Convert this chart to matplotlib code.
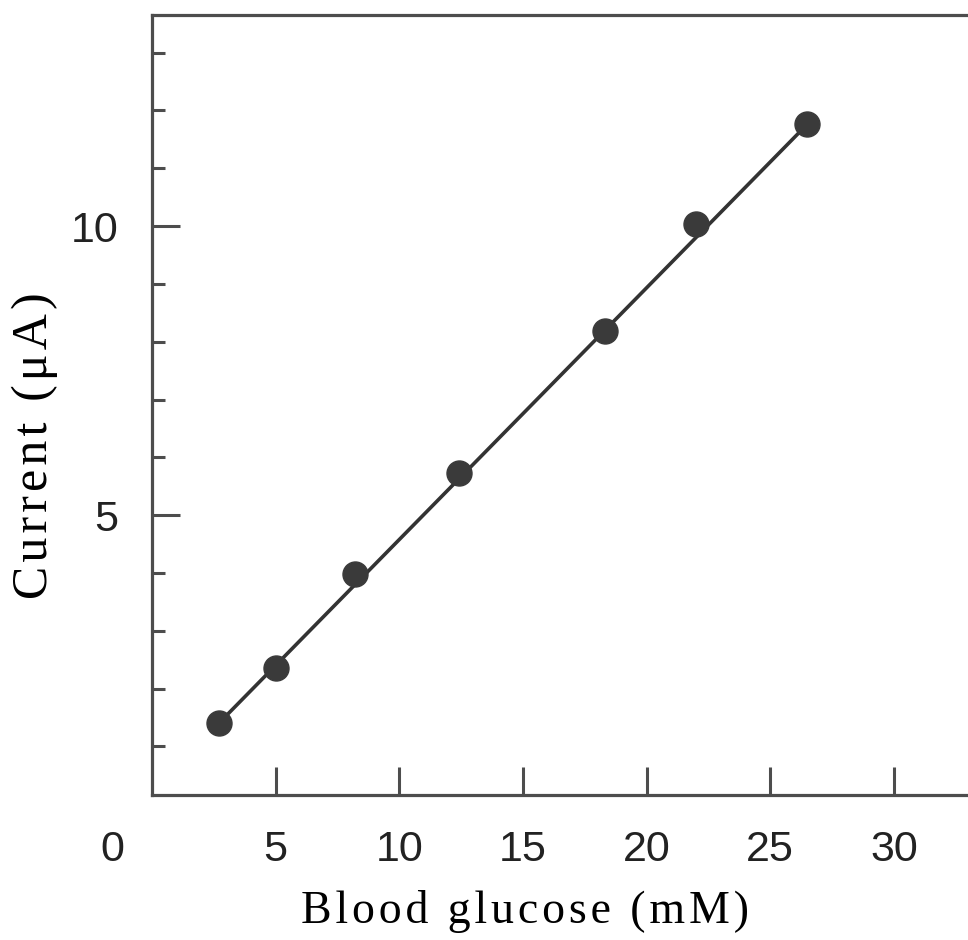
import matplotlib
matplotlib.use('Agg')
import matplotlib.pyplot as plt
from matplotlib.transforms import ScaledTranslation

# measured points (blood glucose mM, current uA)
glucose = [2.7, 5.0, 8.2, 12.4, 18.3, 22.0, 26.5]
current = [1.40, 2.35, 3.99, 5.73, 8.18, 10.03, 11.76]

# drawn calibration line end points
fit_x = [2.7, 26.5]
fit_y = [1.40, 11.76]

x_ticks = [0, 5, 10, 15, 20, 25, 30]
y_major = [5, 10]
y_minor = [1, 2, 3, 4, 6, 7, 8, 9, 11, 12, 13]

axis_col = '#4d4d4d'
dot_col = '#3a3a3a'


def spaced(s, sp='\u200a'):
    # fake letter spacing with hair spaces
    return sp.join(s)


fig = plt.figure(figsize=(9.68, 9.4), dpi=100)
ax = fig.add_axes([152 / 968, 145 / 940, 1 - 152 / 968, (795 - 15) / 940])

ax.plot(fit_x, fit_y, color='#333333', lw=2.6, zorder=2)
ax.plot(glucose, current, 'o', ms=18, color=dot_col, mec=dot_col, zorder=3)

ax.set_xlim(0, 33.0)
ax.set_ylim(0.16, 13.65)

for side in ['left', 'bottom', 'top']:
    ax.spines[side].set_color(axis_col)
    ax.spines[side].set_linewidth(2.3)
ax.spines['right'].set_visible(False)

ax.set_xticks(x_ticks)
ax.set_xticklabels([str(v) for v in x_ticks])
ax.set_yticks(y_major)
ax.set_yticklabels([str(v) for v in y_major])
ax.set_yticks(y_minor, minor=True)

ax.tick_params(axis='both', which='major', direction='in', length=20, width=2.2,
               color=axis_col, labelsize=31, labelcolor='#222222', pad=24)
ax.tick_params(axis='y', which='minor', direction='in', length=9, width=2.2,
               color=axis_col)
ax.tick_params(axis='x', which='major', pad=25)
ax.tick_params(top=False, right=False)
# x=0 tick would sit on the spine; only keep its label, shifted left
ax.xaxis.get_major_ticks()[0].tick1line.set_visible(False)
for lab in ax.get_xticklabels() + ax.get_yticklabels():
    lab.set_fontfamily('Liberation Sans')
zero = ax.get_xticklabels()[0]
zero.set_transform(zero.get_transform() + ScaledTranslation(-0.40, 0, fig.dpi_scale_trans))

serif = ['Liberation Serif', 'DejaVu Serif']
fig.text(525 / 968, 17 / 940, spaced('Blood glucose (mM)'), ha='center', va='baseline',
         fontsize=33, family=serif, color='black')
fig.text(35 / 968, (940 - 446) / 940, spaced('Current (μA)'), ha='center', va='center',
         rotation=90, fontsize=36, family=serif, color='black')

fig.savefig('out.png', dpi=100)
